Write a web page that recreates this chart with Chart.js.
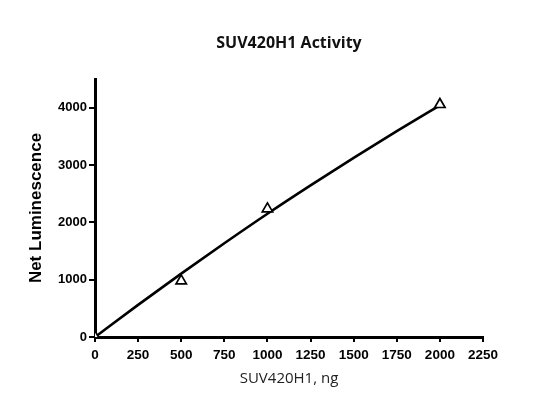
<!DOCTYPE html>
<html>
<head>
<meta charset="utf-8">
<script src="https://cdn.jsdelivr.net/npm/chart.js@4/dist/chart.umd.min.js"></script>
<style>
  html, body { margin: 0; padding: 0; background: #fff; }
  #wrap { width: 544px; height: 400px; }
</style>
</head>
<body>
<div id="wrap"><canvas id="myChart" width="544" height="400"></canvas></div>
<script>
// measured points (ng of enzyme vs net luminescence)
var amountNg = [0, 500, 1000, 2000];
var luminescence = [0, 980, 2235, 4055];
// fitted curve
var fitX = [0, 250, 500, 750, 1000, 1250, 1500, 1750, 2000];
var fitY = [0, 560, 1105, 1635, 2150, 2645, 3125, 3590, 4040];
var xTicks = [0, 250, 500, 750, 1000, 1250, 1500, 1750, 2000, 2250];
var yTicks = [0, 1000, 2000, 3000, 4000];

var points = amountNg.map(function(x, i){ return {x: x, y: luminescence[i]}; });
var fit = fitX.map(function(x, i){ return {x: x, y: fitY[i]}; });

// title centred over the plot area
var titlePlugin = {
    id: 'plotTitle',
    afterDraw: function(chart){
        var c = chart.ctx, a = chart.chartArea;
        c.save();
        c.fillStyle = '#111';
        c.font = "bold 16px 'Open Sans', sans-serif";
        c.textAlign = 'center';
        c.textBaseline = 'middle';
        c.fillText('SUV420H1 Activity', (a.left + a.right) / 2, 43);
        c.restore();
    }
};

var ctx = document.getElementById("myChart");
var myChart = new Chart(ctx, {
    type: 'scatter',
    data: {
        datasets: [{
            label: 'Fit',
            data: fit,
            showLine: true,
            borderColor: '#000',
            borderWidth: 2.6,
            cubicInterpolationMode: 'monotone',
            pointRadius: 0,
            order: 2
        }, {
            label: 'SUV420H1',
            data: points,
            pointStyle: 'triangle',
            pointRadius: 6,
            borderColor: '#000',
            backgroundColor: '#fff',
            borderWidth: 1.7,
            order: 1
        }]
    },
    plugins: [titlePlugin],
    options: {
        responsive: false,
        animation: false,
        layout: { padding: { left: 0, right: 61, top: 79, bottom: 12 } },
        plugins: {
            legend: { display: false },
            tooltip: { enabled: false },
            title: { display: false }
        },
        scales: {
            x: {
                type: 'linear',
                min: 0,
                max: 2250,
                afterFit: function(s){ s.height = 51; },
                afterBuildTicks: function(s){ s.ticks = xTicks.map(function(v){ return {value: v}; }); },
                ticks: {
                    color: '#000',
                    font: {family: "'Liberation Sans', Arial, sans-serif", size: 13.5, weight: 'bold'},
                    padding: 5, maxRotation: 0, autoSkip: false,
                    callback: function(v){ return String(v); }
                },
                grid: { drawOnChartArea: false, drawTicks: true, tickLength: 5, color: '#000', lineWidth: 2 },
                border: { display: true, color: '#000', width: 3 },
                title: {
                    display: true,
                    text: 'SUV420H1, ng',
                    color: '#222',
                    font: {family: "'Open Sans', sans-serif", size: 15, lineHeight: 1.2},
                    padding: {top: 0, bottom: 0}
                }
            },
            y: {
                type: 'linear',
                min: 0,
                max: 4500,
                afterFit: function(s){ s.width = 95; },
                afterBuildTicks: function(s){ s.ticks = yTicks.map(function(v){ return {value: v}; }); },
                ticks: {
                    color: '#000',
                    font: {family: "'Liberation Sans', Arial, sans-serif", size: 13, weight: 'bold'},
                    padding: 2,
                    callback: function(v){ return String(v); }
                },
                grid: { drawOnChartArea: false, drawTicks: true, tickLength: 6, color: '#000', lineWidth: 2 },
                border: { display: true, color: '#000', width: 3 },
                title: {
                    display: true,
                    text: 'Net Luminescence',
                    color: '#000',
                    font: {family: "'Liberation Sans', Arial, sans-serif", size: 17, weight: 'bold', lineHeight: 1.2},
                    padding: {top: 26, bottom: 0}
                }
            }
        }
    }
});
</script>
</body>
</html>
